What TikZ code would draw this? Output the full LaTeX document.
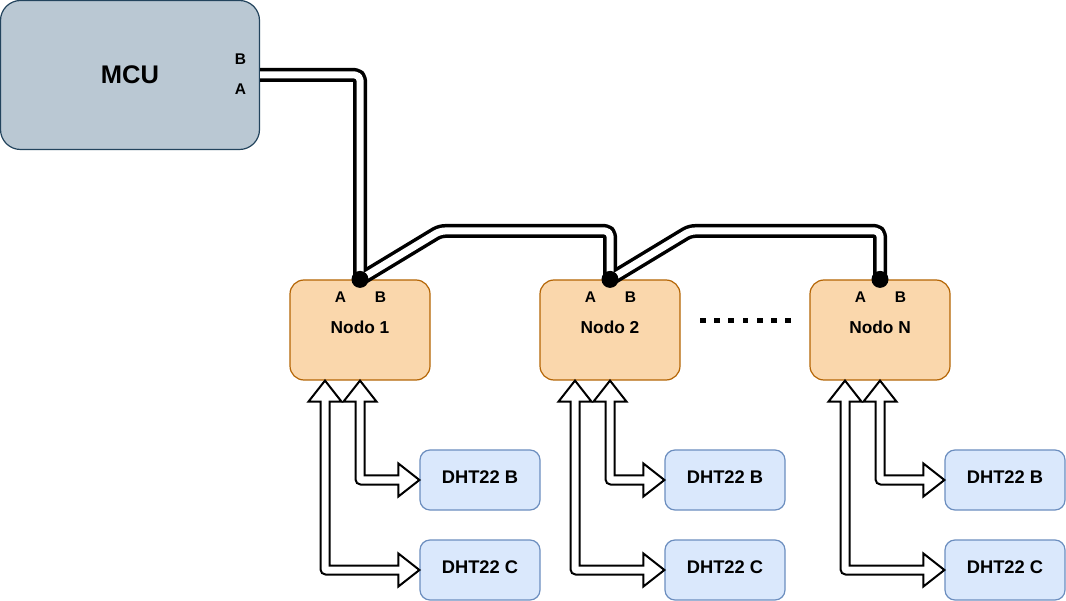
\documentclass[tikz,border=0pt]{standalone}
\usepackage{fontspec}
\setmainfont{Liberation Sans}
\usetikzlibrary{calc}
\definecolor{mcufill}{HTML}{BAC8D3}
\definecolor{mcudraw}{HTML}{23445D}
\definecolor{nodofill}{HTML}{FAD7AC}
\definecolor{nododraw}{HTML}{B46504}
\definecolor{dhtfill}{HTML}{DAE8FC}
\definecolor{dhtdraw}{HTML}{6C8EBF}
\tikzset{
  mcubox/.style={draw=mcudraw, fill=mcufill, line width=1.2pt, rounded corners=20pt,
    minimum width=259pt, minimum height=149pt, inner sep=0pt,
    font=\fontsize{25.5}{25.5}\selectfont\bfseries},
  nodobox/.style={draw=nododraw, fill=nodofill, line width=1.2pt, rounded corners=14pt,
    minimum width=140pt, minimum height=100pt, inner sep=0pt, text depth=6pt,
    font=\fontsize{17.3}{17.3}\selectfont\bfseries},
  dhtbox/.style={draw=dhtdraw, fill=dhtfill, line width=1.2pt, rounded corners=10pt,
    minimum width=120pt, minimum height=60pt, inner sep=0pt, text depth=5pt,
    font=\fontsize{18.3}{18.3}\selectfont\bfseries},
  pinlabel/.style={inner sep=0pt, font=\fontsize{15.5}{15.5}\selectfont\bfseries},
  wireout/.style={line width=14pt, rounded corners=5pt, line join=round},
  wirein/.style={white, line width=7pt, rounded corners=5pt, line join=round},
  flexarrow/.style={draw=black, fill=white, line width=2pt, line join=miter},
  joint/.style={fill=black}
}
\newcommand\flexconn[2]{%
  \draw[flexarrow] let \p1=(#1), \p2=(#2) in
    (\x1,\y1) -- (\x1+16.5pt,\y1-21pt) -- (\x1+4.5pt,\y1-21pt)
    -- (\x1+4.5pt,\y2+4.5pt) -- (\x2-21pt,\y2+4.5pt) -- (\x2-21pt,\y2+16.5pt)
    -- (\x2,\y2) -- (\x2-21pt,\y2-16.5pt) -- (\x2-21pt,\y2-4.5pt)
    -- (\x1+0.5pt,\y2-4.5pt) arc[start angle=270,end angle=180,radius=5pt]
    -- (\x1-4.5pt,\y1-21pt) -- (\x1-16.5pt,\y1-21pt) -- cycle;}
\begin{document}
\begin{tikzpicture}[x=1pt,y=-1pt]
\useasboundingbox (0,0) rectangle (1066,601);

% MCU
\node[mcubox] (mcu) at (130,75) {MCU};
\node[pinlabel] (mcuB) at (240.5,59) {B};
\node[pinlabel] (mcuA) at (240.5,89) {A};

% Nodes
\node[nodobox] (n1) at (360,330) {Nodo 1};
\node[nodobox] (n2) at (610,330) {Nodo 2};
\node[nodobox] (nN) at (880,330) {Nodo N};
\foreach \n in {n1,n2,nN}{
  \node[pinlabel] (\n a) at ($(\n.north)+(-19.5,18)$) {A};
  \node[pinlabel] (\n b) at ($(\n.north)+(20.5,18)$) {B};
}

% DHT22 sensors
\node[dhtbox] (b1) at (480,480) {DHT22 B};
\node[dhtbox] (c1) at (480,570) {DHT22 C};
\node[dhtbox] (b2) at (725,480) {DHT22 B};
\node[dhtbox] (c2) at (725,570) {DHT22 C};
\node[dhtbox] (bN) at (1005,480) {DHT22 B};
\node[dhtbox] (cN) at (1005,570) {DHT22 C};

% bus wires
\coordinate (bus1) at (440,231);
\coordinate (bus2) at (690,231);
\draw[wireout] (mcu.east) -- (n1.north |- mcu.east) -- (n1.north);
\draw[wireout] (n1.north) -- (bus1) -- (bus1 -| n2.north) -- (n2.north);
\draw[wireout] (n2.north) -- (bus2) -- (bus2 -| nN.north) -- (nN.north);
\draw[wirein] (mcu.east) -- (n1.north |- mcu.east) -- (n1.north);
\draw[wirein] (n1.north) -- (bus1) -- (bus1 -| n2.north) -- (n2.north);
\draw[wirein] (n2.north) -- (bus2) -- (bus2 -| nN.north) -- (nN.north);
\fill[joint] (n1.north) circle (8.5pt);
\fill[joint] (n2.north) circle (8.5pt);
\fill[joint] (nN.north) circle (8.5pt);

% ellipsis
\foreach \i in {0,...,6}
  \fill (700+\i*14.2,317.7) rectangle ++(5.7,5.7);

% sensor arrows
\flexconn{$(n1.south)+(-35,0)$}{c1.west}
\flexconn{n1.south}{b1.west}
\flexconn{$(n2.south)+(-35,0)$}{c2.west}
\flexconn{n2.south}{b2.west}
\flexconn{$(nN.south)+(-35,0)$}{cN.west}
\flexconn{nN.south}{bN.west}
\end{tikzpicture}
\end{document}
